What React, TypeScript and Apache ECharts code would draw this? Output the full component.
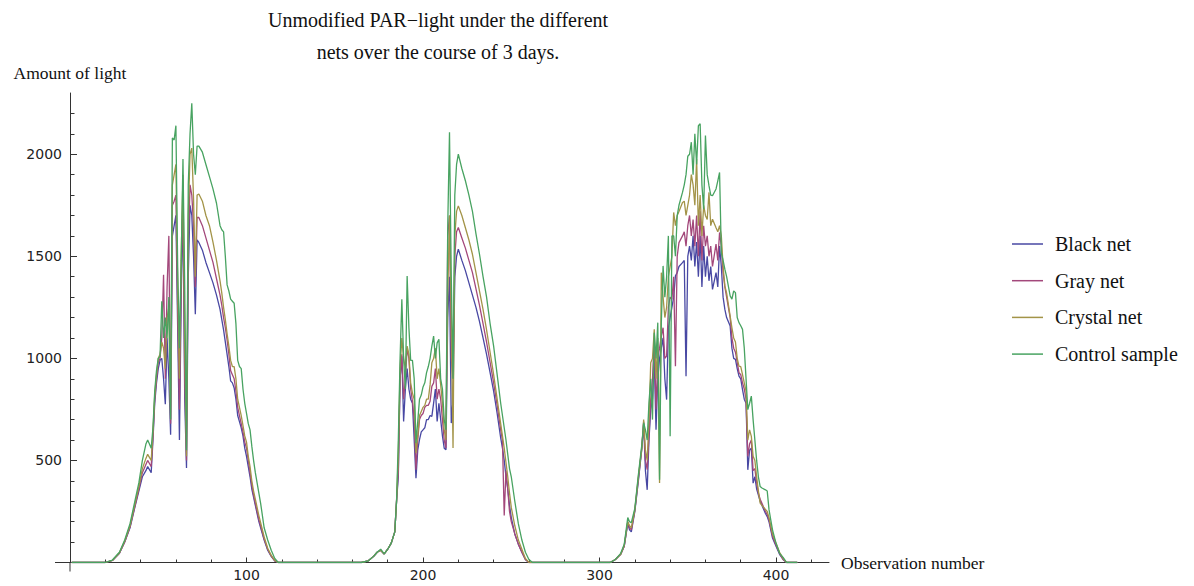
import React, { useEffect, useRef } from "react";
import * as echarts from "echarts";

const seriesNames = ["Black net", "Gray net", "Crystal net", "Control sample"];
const seriesColors = ["#4848A3", "#A3487B", "#A39448", "#48A361"];

const titleLines = ["Unmodified PAR\u2212light under the different", "nets over the course of 3 days."];
const xName = "Observation number";
const yName = "Amount of light";

const xMajorTicks = [100, 200, 300, 400];
const xMinorTicks = [20, 40, 60, 80, 120, 140, 160, 180, 220, 240, 260, 280, 320, 340, 360, 380, 420];
const yMajorTicks = [500, 1000, 1500, 2000];
const yMinorTicks = [100, 200, 300, 400, 600, 700, 800, 900, 1100, 1200, 1300, 1400, 1600, 1700, 1800, 1900, 2100, 2200];

// Day 1
const day1Obs = [1, 20, 24, 28, 31, 34, 37, 39, 41, 43, 44, 45, 46, 47, 48, 49, 50, 51, 52, 53, 54, 55, 56, 57, 58, 59, 60, 61, 62, 63, 64, 65, 66, 67, 68, 69, 70, 71, 72, 73, 75, 77, 79, 81, 83, 85, 86, 87, 88, 89, 90, 91, 92, 93, 94, 95, 96, 97, 98, 99, 100, 101, 102, 103, 104, 105, 106, 107, 108, 110, 112, 114, 116, 118];
const day1Black = [0, 0, 10, 45, 100, 170, 280, 350, 420, 450, 470, 455, 440, 600, 780, 880, 950, 990, 1000, 900, 775, 1100, 900, 626, 1600, 1650, 1700, 1150, 600, 1300, 1750, 800, 463, 1400, 1750, 1700, 1500, 1216, 1580, 1568, 1530, 1470, 1420, 1370, 1310, 1240, 1190, 1140, 1080, 1020, 960, 890, 880, 855, 800, 720, 690, 660, 620, 560, 520, 470, 420, 360, 320, 280, 240, 200, 170, 110, 60, 30, 8, 0];
const day1Gray = [0, 0, 10, 45, 100, 175, 285, 360, 440, 480, 500, 485, 470, 620, 800, 900, 980, 1000, 1100, 1410, 900, 1350, 1600, 680, 1750, 1770, 1800, 1250, 750, 1400, 1800, 900, 500, 1550, 1850, 1800, 1650, 1350, 1690, 1690, 1650, 1590, 1530, 1470, 1390, 1310, 1260, 1200, 1150, 1090, 1020, 940, 920, 900, 840, 760, 720, 680, 640, 590, 560, 500, 440, 380, 330, 290, 250, 210, 180, 115, 65, 32, 8, 0];
const day1Crystal = [0, 0, 10, 48, 105, 180, 295, 370, 460, 510, 530, 515, 500, 640, 820, 920, 1000, 1020, 1080, 1050, 950, 1200, 1250, 700, 1850, 1900, 1950, 1350, 900, 1500, 1900, 1100, 520, 1700, 2000, 2030, 1780, 1400, 1800, 1805, 1770, 1700, 1650, 1570, 1480, 1380, 1320, 1250, 1190, 1120, 1060, 990, 960, 960, 900, 800, 760, 720, 670, 620, 590, 520, 470, 400, 350, 310, 270, 230, 195, 125, 70, 35, 10, 0];
const day1Control = [0, 0, 12, 50, 110, 190, 310, 390, 500, 580, 600, 580, 560, 660, 840, 940, 1000, 1010, 1280, 1100, 1200, 1100, 1300, 700, 2080, 2070, 2140, 1450, 1050, 1480, 1977, 1350, 550, 1850, 2100, 2250, 2000, 1900, 2040, 2040, 2010, 1950, 1890, 1830, 1760, 1650, 1630, 1620, 1500, 1360, 1330, 1290, 1280, 1270, 1170, 990, 960, 950, 850, 780, 730, 680, 650, 570, 500, 440, 390, 340, 290, 170, 110, 60, 20, 0];

// Day 2
const day2Obs = [165, 169, 172, 174, 176, 178, 180, 182, 184, 185, 186, 187, 188, 189, 190, 191, 192, 193, 194, 195, 196, 197, 198, 199, 200, 201, 202, 203, 204, 205, 206, 207, 208, 209, 210, 211, 212, 213, 214, 215, 216, 217, 218, 219, 220, 222, 224, 226, 228, 230, 232, 234, 236, 238, 240, 242, 244, 245, 246, 247, 248, 249, 250, 252, 254, 256, 258, 260, 262];
const day2Black = [0, 8, 30, 50, 60, 42, 65, 95, 150, 300, 420, 900, 1010, 691, 850, 950, 850, 800, 780, 600, 413, 550, 602, 640, 650, 660, 700, 700, 720, 716, 781, 850, 691, 780, 700, 620, 560, 552, 1200, 1400, 683, 800, 1400, 1500, 1535, 1480, 1430, 1370, 1310, 1250, 1180, 1100, 1020, 930, 840, 730, 610, 560, 500, 420, 360, 280, 220, 140, 90, 50, 15, 0, 0];
const day2Gray = [0, 8, 30, 50, 60, 42, 65, 95, 150, 300, 450, 900, 1020, 800, 900, 1050, 1000, 850, 790, 700, 454, 600, 700, 720, 730, 760, 770, 770, 790, 863, 880, 950, 800, 850, 800, 700, 600, 560, 1600, 1700, 1000, 900, 1500, 1620, 1641, 1590, 1540, 1480, 1420, 1340, 1260, 1170, 1080, 980, 880, 770, 650, 600, 230, 450, 360, 250, 200, 140, 90, 50, 15, 0, 0];
const day2Crystal = [0, 8, 30, 50, 60, 42, 65, 95, 150, 300, 520, 950, 1100, 1000, 950, 1060, 1020, 880, 830, 800, 536, 620, 720, 740, 760, 770, 800, 800, 870, 978, 1000, 1050, 900, 950, 870, 780, 650, 600, 1300, 1700, 1200, 561, 1600, 1720, 1747, 1700, 1640, 1580, 1510, 1420, 1330, 1240, 1140, 1030, 920, 800, 680, 620, 560, 490, 420, 340, 270, 180, 110, 65, 20, 0, 0];
const day2Control = [0, 8, 30, 50, 65, 42, 65, 95, 150, 300, 600, 1000, 1290, 1000, 850, 1404, 1150, 990, 990, 900, 585, 690, 800, 820, 860, 880, 930, 960, 1000, 1060, 1109, 1000, 1076, 1093, 900, 850, 700, 650, 1650, 2108, 1400, 900, 1800, 1950, 2001, 1930, 1870, 1800, 1720, 1610, 1510, 1400, 1300, 1170, 1060, 920, 780, 720, 660, 600, 530, 460, 420, 300, 190, 110, 50, 15, 0];

// Day 3
const day3Obs = [306, 309, 312, 314, 316, 317, 318, 320, 322, 324, 325, 326, 327, 328, 329, 330, 331, 332, 333, 334, 335, 336, 337, 338, 339, 340, 341, 342, 343, 344, 345, 347, 348, 349, 350, 351, 352, 353, 354, 355, 356, 357, 358, 359, 360, 361, 362, 363, 364, 366, 367, 368, 369, 370, 371, 372, 374, 375, 376, 377, 378, 379, 380, 381, 382, 383, 384, 385, 386, 387, 388, 389, 390, 391, 392, 394, 395, 396, 397, 398, 400, 402, 404, 406, 412];
const day3Black = [0, 15, 40, 80, 190, 160, 150, 250, 400, 560, 680, 450, 356, 600, 750, 800, 1000, 651, 900, 1000, 1050, 1100, 900, 798, 1150, 1200, 1250, 1300, 1404, 1420, 1450, 1469, 1480, 913, 1500, 1550, 1480, 1600, 1450, 1570, 1400, 1600, 1350, 1550, 1400, 1500, 1380, 1450, 1338, 1420, 1350, 1550, 1450, 1300, 1240, 1200, 1158, 1050, 1000, 995, 950, 913, 900, 847, 800, 780, 454, 550, 560, 389, 420, 360, 330, 300, 280, 240, 225, 200, 160, 120, 80, 40, 15, 0, 0];
const day3Gray = [0, 15, 40, 80, 200, 170, 160, 255, 410, 570, 690, 500, 455, 620, 800, 900, 1100, 750, 1000, 1050, 1109, 1150, 1000, 1011, 1250, 1300, 1289, 1400, 962, 1500, 1567, 1600, 1620, 1550, 1650, 1700, 1600, 1680, 1550, 1700, 1500, 1720, 1480, 1650, 1550, 1600, 1500, 1550, 1450, 1560, 1480, 1617, 1550, 1420, 1350, 1300, 1200, 1100, 1050, 1030, 980, 930, 920, 880, 850, 800, 520, 580, 600, 450, 460, 390, 340, 310, 290, 250, 235, 210, 170, 130, 85, 45, 15, 0, 0];
const day3Crystal = [0, 15, 40, 85, 200, 180, 170, 258, 420, 560, 700, 550, 500, 700, 978, 1000, 1142, 900, 1100, 390, 1420, 1300, 1200, 1250, 1400, 1450, 1500, 1715, 1650, 1700, 1720, 1764, 1770, 1700, 1750, 1800, 1900, 1850, 1750, 1977, 1650, 1800, 1600, 1750, 1700, 1680, 1813, 1650, 1682, 1640, 1620, 1650, 1600, 1450, 1355, 1320, 1207, 1150, 1100, 1080, 1000, 962, 960, 920, 880, 840, 600, 650, 618, 520, 500, 420, 350, 291, 280, 260, 250, 220, 180, 140, 94, 50, 20, 0, 0];
const day3Control = [0, 15, 45, 90, 220, 200, 195, 265, 430, 580, 684, 650, 600, 782, 900, 700, 1126, 1000, 1175, 405, 1175, 1453, 1300, 1400, 1600, 618, 1600, 1600, 1500, 1699, 1750, 1813, 1850, 1900, 1990, 2000, 2059, 1900, 2100, 1950, 2140, 2149, 1850, 1731, 2092, 1900, 1846, 1800, 1797, 1830, 1870, 1911, 1518, 1480, 1437, 1400, 1306, 1290, 1330, 1322, 1200, 1175, 1160, 1142, 1050, 900, 749, 780, 815, 700, 600, 500, 420, 372, 365, 356, 350, 260, 209, 160, 94, 45, 25, 0, 0];

const allObs = [...day1Obs, ...day2Obs, ...day3Obs];
const seriesValues = [
  [...day1Black, ...day2Black, ...day3Black],
  [...day1Gray, ...day2Gray, ...day3Gray],
  [...day1Crystal, ...day2Crystal, ...day3Crystal],
  [...day1Control, ...day2Control, ...day3Control],
];

const serif = "'Liberation Serif', 'Times New Roman', serif";
const sans = "'DejaVu Sans', Verdana, sans-serif";
const axisColor = "#333333";
const plain = (v: number) => String(v);

export default function App() {
  const ref = useRef<HTMLDivElement>(null);

  useEffect(() => {
    if (!ref.current) return;
    const chart = echarts.init(ref.current, undefined, { renderer: "svg" });

    const series = seriesNames.map((name, i) => ({
      name,
      type: "line",
      xAxisIndex: 0,
      yAxisIndex: 0,
      showSymbol: false,
      symbol: "none",
      color: seriesColors[i],
      lineStyle: { width: 1.3, color: seriesColors[i] },
      data: allObs.map((x, k) => [x, seriesValues[i][k]]),
      z: 2 + i,
    }));

    chart.setOption({
      animation: false,
      backgroundColor: "#ffffff",
      grid: { left: 70, top: 93, width: 759, height: 469.5, containLabel: false },
      legend: {
        orient: "vertical",
        left: 1012,
        top: 234,
        padding: 0,
        icon: "rect",
        itemWidth: 31,
        itemHeight: 1.5,
        itemGap: 16.7,
        data: seriesNames,
        textStyle: { fontFamily: serif, fontSize: 20, lineHeight: 20, color: "#111", padding: [0, 0, 0, 7] },
      },
      xAxis: [
        {
          type: "value",
          min: 0,
          max: 430,
          position: "bottom",
          name: xName,
          nameLocation: "end",
          nameGap: 12,
          nameTextStyle: { fontFamily: serif, fontSize: 17.5, color: "#111", align: "left", verticalAlign: "middle" },
          axisLine: { show: true, onZero: false, lineStyle: { color: axisColor, width: 1 } },
          axisTick: { show: true, inside: true, length: 5, customValues: xMajorTicks, lineStyle: { color: axisColor } },
          axisLabel: { customValues: xMajorTicks, formatter: plain, margin: 5, fontFamily: sans, fontSize: 14, color: "#222" },
          splitLine: { show: false },
        },
        {
          type: "value",
          min: 0,
          max: 430,
          position: "bottom",
          axisLine: { show: false, onZero: false },
          axisTick: { show: true, inside: true, length: 3, customValues: xMinorTicks, lineStyle: { color: axisColor } },
          axisLabel: { show: false },
          splitLine: { show: false },
        },
      ],
      yAxis: [
        {
          type: "value",
          min: 0,
          max: 2300,
          position: "left",
          name: yName,
          nameLocation: "end",
          nameGap: 20,
          nameTextStyle: { fontFamily: serif, fontSize: 17.5, color: "#111", align: "center", verticalAlign: "middle" },
          axisLine: { show: true, onZero: false, lineStyle: { color: axisColor, width: 1 } },
          axisTick: { show: true, inside: true, length: 7, customValues: yMajorTicks, lineStyle: { color: axisColor } },
          axisLabel: { customValues: yMajorTicks, formatter: plain, margin: 8, fontFamily: sans, fontSize: 14, color: "#222" },
          splitLine: { show: false },
        },
        {
          type: "value",
          min: 0,
          max: 2300,
          position: "left",
          axisLine: { show: false, onZero: false },
          axisTick: { show: true, inside: true, length: 4.5, customValues: yMinorTicks, lineStyle: { color: axisColor } },
          axisLabel: { show: false },
          splitLine: { show: false },
        },
      ],
      series,
    });

    const origin = chart.convertToPixel({ xAxisIndex: 0, yAxisIndex: 0 }, [0, 0]) as number[];
    chart.setOption({
      graphic: [
        {
          type: "text",
          x: 438,
          y: 20,
          style: { text: titleLines[0], fontFamily: serif, fontSize: 20, fill: "#111", textAlign: "center", textVerticalAlign: "middle" },
        },
        {
          type: "text",
          x: 438,
          y: 52,
          style: { text: titleLines[1], fontFamily: serif, fontSize: 20, fill: "#111", textAlign: "center", textVerticalAlign: "middle" },
        },
        {
          type: "line",
          shape: { x1: origin[0] - 15, y1: origin[1], x2: origin[0], y2: origin[1] },
          style: { stroke: axisColor, lineWidth: 1 },
        },
        {
          type: "line",
          shape: { x1: origin[0], y1: origin[1], x2: origin[0], y2: origin[1] + 9 },
          style: { stroke: axisColor, lineWidth: 1 },
        },
      ],
    });

    return () => chart.dispose();
  }, []);

  return (
    <div
      ref={ref}
      style={{ position: "fixed", left: 0, top: 0, width: 1194, height: 586, background: "#fff" }}
    />
  );
}
